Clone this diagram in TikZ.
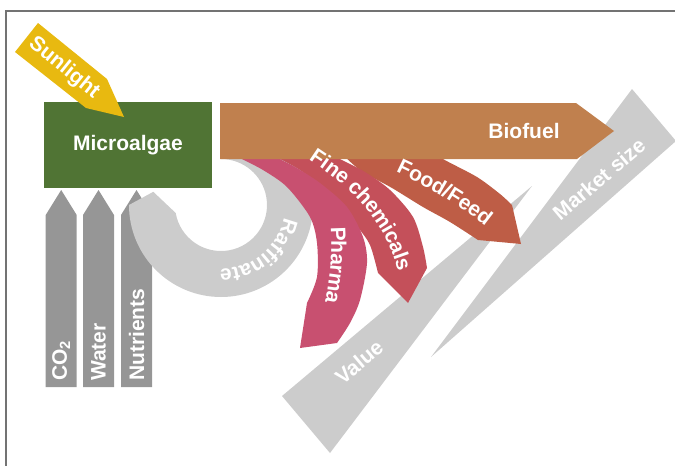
\documentclass[tikz,border=0pt]{standalone}
\usepackage{fontspec}
\setmainfont{Liberation Sans}
\usetikzlibrary{decorations.text}
\definecolor{algaegreen}{HTML}{507434}
\definecolor{sunyellow}{HTML}{E8B910}
\definecolor{fuelbrown}{HTML}{C0804E}
\definecolor{feedred}{HTML}{BE5D46}
\definecolor{chemred}{HTML}{C4505A}
\definecolor{pharmapink}{HTML}{C85070}
\definecolor{inletgray}{HTML}{969696}
\definecolor{palegray}{HTML}{CCCCCC}
\newcommand{\lblfont}{\bfseries\fontsize{21}{25}\selectfont}
\begin{document}
\begin{tikzpicture}[x=1pt,y=-1pt,
lbl/.style={text=white,font=\lblfont,inner sep=0pt},
rim/.style={draw=black!55,line width=1.3pt},
bend/.style={decoration={text along path,text={|\lblfont|#1},text align=center,text color=white,raise=-5.5pt},decorate}]
\useasboundingbox(0,0)rectangle(675,466);
\clip(0,0)rectangle(675,466);
\newcommand{\Inlet}[3]{
\fill[inletgray](#1,387)--++(0,-172)--++(15.5,-25)--++(15.5,25)--++(0,172)--cycle;
\node[lbl,rotate=90,anchor=west](#3)at(#1+15.5,381){#2};}
% value and market size wedges
\fill[palegray](282,396)--(532,186)--(330,453)--cycle;
\fill[palegray](431,357)--(632,89)--(676,141)--cycle;
% inputs
\Inlet{45.7}{CO\textsubscript{2}}{co2}
\Inlet{83}{Water}{water}
\Inlet{121}{Nutrients}{nutrients}
% raffinate ring
\fill[palegray](221,205)++(-90:92)arc[start angle=-90,end angle=180,radius=92]
--(153.3,191.8)--(175.7,213)arc[start angle=170,end angle=-90,radius=46]--cycle;
\node[lbl,fill=algaegreen,minimum width=168pt,minimum height=86pt](algae)at(128,145){Microalgae};
% products
\fill[feedred]plot[smooth]coordinates{(432,150)(443,159)(477,177)(500,194)(512,205)}--(521,244)--(478,240)
--plot[smooth]coordinates{(478,240)(450,222)(423,207)(392,188)(360,170)(338,150)}--cycle;
\fill[chemred]plot[smooth]coordinates{(262,150)(300,170)(338,200)(357,226)(370,245)(378,273)}--(408,303)--(427,268)
--plot[smooth]coordinates{(427,268)(423,247)(413,217)(390,190)(365,172)(340,159)(325,150)}--cycle;
\fill[pharmapink]plot[smooth]coordinates{(228,150)(240,158)(263,170)(287,187)(310,217)(317,243)(317,277)(307,303)}--(300,348)--(337,343)
--plot[smooth]coordinates{(337,343)(350,323)(360,300)(367,263)(363,237)(347,207)(320,183)(295,167)(280,159)(272,150)}--cycle;
\fill[fuelbrown](220,103)--(576,103)--(614,131)--(577,159)--(220,159)--cycle;
\fill[sunyellow](15,52)--(38,23)--(107,79)--(124,117)--(86,108)--cycle;
% labels
\node[lbl](biofuel)at(524,131){Biofuel};
\node[lbl,rotate=-39](sun)at(64,68){Sunlight};
\node[lbl,rotate=40](value)at(359,362){Value};
\node[lbl,rotate=40](market)at(599,179){Market size};
\path[bend=Raffinate,decoration={raise=0pt}](221,205)++(0:64)arc[start angle=0,end angle=102,radius=64];
\path[bend=Fine chemicals](310,154)..controls(350,180)and(390,215)..(404,272);
\path[bend=Food/Feed](385,161)..controls(420,176)and(465,200)..(500,231);
\path[bend=Pharma](335,212)..controls(339,250)and(336,285)..(327,318);
\draw[rim](6,466)--(6,11)--(675,11);
\end{tikzpicture}
\end{document}
